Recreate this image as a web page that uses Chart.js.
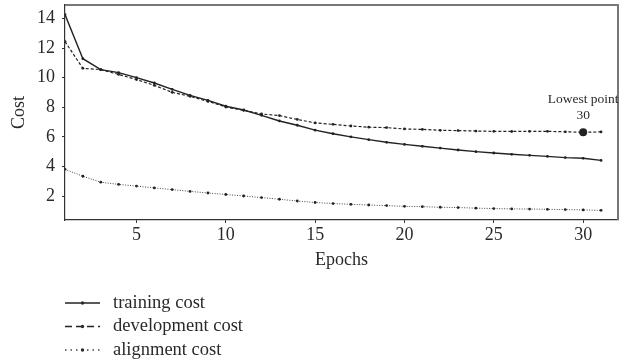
<!DOCTYPE html>
<html lang="en">

<head>
    <meta charset="UTF-8">
    <title>Cost per epoch</title>
    <style>
        html, body { margin: 0; padding: 0; background: #fff; }
    </style>
</head>

<body>

    <div style="width: 628px; height: 364px;">
        <canvas id="myChart"></canvas>
    </div>

    <script src="https://cdn.jsdelivr.net/npm/chart.js"></script>
    <script>
        const epochs = [1, 2, 3, 4, 5, 6, 7, 8, 9, 10, 11, 12, 13, 14, 15, 16,
            17, 18, 19, 20, 21, 22, 23, 24, 25, 26, 27, 28, 29, 30, 31];

        const trainingCost = [14.25, 11.28, 10.54, 10.34, 10.0, 9.64, 9.21, 8.81, 8.47, 8.07,
            7.82, 7.46, 7.08, 6.79, 6.46, 6.22, 6.01, 5.82, 5.64, 5.5,
            5.37, 5.25, 5.12, 5.01, 4.92, 4.83, 4.76, 4.69, 4.61, 4.56, 4.42];

        const developmentCost = [12.43, 10.63, 10.54, 10.22, 9.87, 9.48, 9.01, 8.74, 8.4, 8.02,
            7.8, 7.55, 7.44, 7.18, 6.95, 6.85, 6.74, 6.66, 6.63, 6.54,
            6.51, 6.45, 6.43, 6.4, 6.38, 6.37, 6.38, 6.38, 6.35, 6.32, 6.34];

        const alignmentCost = [3.82, 3.35, 2.95, 2.8, 2.69, 2.56, 2.45, 2.33, 2.22, 2.12,
            2.02, 1.91, 1.8, 1.68, 1.58, 1.51, 1.46, 1.41, 1.37, 1.32,
            1.3, 1.26, 1.24, 1.2, 1.17, 1.15, 1.14, 1.12, 1.1, 1.08, 1.05];

        const seriesNames = ['training cost', 'development cost', 'alignment cost'];
        const xTicks = [5, 10, 15, 20, 25, 30];
        const yTicks = [2, 4, 6, 8, 10, 12, 14];
        const lowestEpoch = 30;
        const lowestText = ['Lowest point', '30'];

        const FONT = '"Liberation Serif", "DejaVu Serif", serif';
        const INK = '#2a2a2a';

        // dash used for each series' sample in the legend
        const legendDash = [[], [7, 4], [1.5, 4]];

        function toPoints(values) {
            return epochs.map((e, i) => ({ x: e, y: values[i] }));
        }

        // bigger marker on the lowest development point
        let devRadius = epochs.map(e => e === lowestEpoch ? 4 : 1.4);

        // grey frame on top and right of the plot
        const framePlugin = {
            id: 'frame',
            beforeDatasetsDraw(chart) {
                const { ctx, chartArea: a } = chart;
                ctx.save();
                ctx.strokeStyle = '#777';
                ctx.lineWidth = 2;
                ctx.beginPath();
                ctx.moveTo(a.left, a.top);
                ctx.lineTo(a.right, a.top);
                ctx.lineTo(a.right, a.bottom);
                ctx.stroke();
                ctx.restore();
            }
        };

        // "Lowest point / 30" label above the big dot
        const lowestPlugin = {
            id: 'lowest',
            afterDatasetsDraw(chart) {
                const pt = chart.getDatasetMeta(1).data[lowestEpoch - 1];
                const ctx = chart.ctx;
                ctx.save();
                ctx.font = '13.5px ' + FONT;
                ctx.fillStyle = INK;
                ctx.textAlign = 'center';
                ctx.textBaseline = 'middle';
                ctx.fillText(lowestText[0], pt.x, pt.y - 33);
                ctx.fillText(lowestText[1], pt.x, pt.y - 17);
                ctx.restore();
            }
        };

        // legend stacked in rows under the axis
        const legendPlugin = {
            id: 'stackedLegend',
            afterDraw(chart) {
                const ctx = chart.ctx;
                const x0 = 65, lineLen = 35, y0 = 303, rowH = 23.5;
                ctx.save();
                chart.data.datasets.forEach((ds, i) => {
                    const y = y0 + i * rowH;
                    ctx.strokeStyle = ds.borderColor;
                    ctx.lineWidth = 1.4;
                    ctx.setLineDash(legendDash[i]);
                    ctx.beginPath();
                    ctx.moveTo(x0, y);
                    ctx.lineTo(x0 + lineLen, y);
                    ctx.stroke();
                    ctx.setLineDash([]);
                    ctx.fillStyle = INK;
                    ctx.beginPath();
                    ctx.arc(x0 + lineLen / 2, y, 1.7, 0, Math.PI * 2);
                    ctx.fill();
                    ctx.font = '18.5px ' + FONT;
                    ctx.textAlign = 'left';
                    ctx.textBaseline = 'middle';
                    ctx.fillText(ds.label, x0 + 48, y);
                });
                ctx.restore();
            }
        };

        const ctx = document.getElementById('myChart');

        new Chart(ctx, {
            type: 'line',
            data: {
                datasets: [{
                    label: seriesNames[0],
                    data: toPoints(trainingCost),
                    borderColor: '#222',
                    borderWidth: 1.4,
                    pointRadius: 1.4,
                    pointBackgroundColor: '#222',
                    pointBorderWidth: 0
                }, {
                    label: seriesNames[1],
                    data: toPoints(developmentCost),
                    borderColor: '#222',
                    borderWidth: 1.2,
                    borderDash: [3, 2],
                    pointRadius: devRadius,
                    pointBackgroundColor: '#222',
                    pointBorderWidth: 0
                }, {
                    label: seriesNames[2],
                    data: toPoints(alignmentCost),
                    borderColor: '#444',
                    borderWidth: 1,
                    borderDash: [1, 1.5],
                    pointRadius: 1.4,
                    pointBackgroundColor: '#222',
                    pointBorderWidth: 0
                }]
            },
            options: {
                responsive: true,
                maintainAspectRatio: false,
                animation: false,
                layout: {
                    padding: { top: 5, right: 10, left: 0, bottom: 82 }
                },
                scales: {
                    x: {
                        type: 'linear',
                        min: 1,
                        max: 31.95,
                        afterBuildTicks: (scale) => { scale.ticks = xTicks.map(v => ({ value: v })); },
                        afterFit: (scale) => {
                            scale.height = 62;
                            scale.paddingLeft = 0;
                            scale.paddingRight = 0;
                        },
                        grid: { drawOnChartArea: false, tickLength: 3, tickColor: '#333' },
                        border: { color: '#333', width: 1.2 },
                        ticks: { color: INK, padding: 1, maxRotation: 0, font: { family: FONT, size: 18 } },
                        title: {
                            display: true,
                            text: 'Epochs',
                            color: INK,
                            font: { family: FONT, size: 18 },
                            padding: { top: 0, bottom: 11 }
                        }
                    },
                    y: {
                        min: 0.4,
                        max: 14.9,
                        afterBuildTicks: (scale) => { scale.ticks = yTicks.map(v => ({ value: v })); },
                        afterFit: (scale) => {
                            scale.width = 65;
                            scale.paddingTop = 0;
                            scale.paddingBottom = 0;
                        },
                        grid: { drawOnChartArea: false, tickLength: 3, tickColor: '#333' },
                        border: { color: '#333', width: 1.2 },
                        ticks: { color: INK, padding: 7, font: { family: FONT, size: 18 } },
                        title: {
                            display: true,
                            text: 'Cost',
                            color: INK,
                            font: { family: FONT, size: 18 },
                            padding: { top: 8, bottom: 0 }
                        }
                    }
                },
                plugins: {
                    legend: { display: false },
                    tooltip: { enabled: false }
                }
            },
            plugins: [framePlugin, lowestPlugin, legendPlugin]
        });
    </script>
</body>

</html>
